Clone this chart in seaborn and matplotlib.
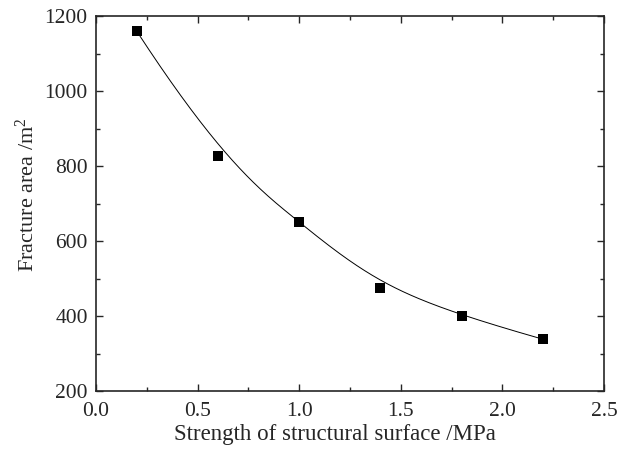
import numpy as np
import pandas as pd
import matplotlib
matplotlib.use("Agg")
import matplotlib.pyplot as plt
import seaborn as sns
from matplotlib.ticker import MultipleLocator

strength = [0.2, 0.6, 1.0, 1.4, 1.8, 2.2]
area = [1160, 827, 650, 476, 400, 338]

sns.set_style("ticks")
plt.rcParams['font.family'] = ['Liberation Serif', 'DejaVu Serif']
plt.rcParams['mathtext.fontset'] = 'custom'
plt.rcParams['mathtext.rm'] = 'Liberation Serif'
plt.rcParams['mathtext.it'] = 'Liberation Serif:italic'

df = pd.DataFrame({"x": strength, "y": area})

# clamped cubic B-spline using the data points as control points (Origin-style "B-Spline" connect)
def bspline(ctrl, n=300, k=3):
    ctrl = np.asarray(ctrl, dtype=float)
    m = len(ctrl)
    inner = np.arange(1, m - k)
    knots = np.concatenate([np.zeros(k + 1), inner, np.full(k + 1, m - k)]).astype(float)
    us = np.linspace(0, m - k, n)
    out = []
    for u in us:
        N = np.zeros(len(knots) - 1)
        for i in range(len(knots) - 1):
            if knots[i] <= u < knots[i + 1] or (u == knots[-1] and knots[i] < u <= knots[i + 1]):
                N[i] = 1.0
        for d in range(1, k + 1):
            Nn = np.zeros(len(knots) - 1 - d)
            for i in range(len(Nn)):
                a = 0.0
                if knots[i + d] != knots[i]:
                    a = (u - knots[i]) / (knots[i + d] - knots[i]) * N[i]
                b = 0.0
                if knots[i + d + 1] != knots[i + 1]:
                    b = (knots[i + d + 1] - u) / (knots[i + d + 1] - knots[i + 1]) * N[i + 1]
                Nn[i] = a + b
            N = Nn
        out.append(N @ ctrl)
    return np.array(out)

curve = bspline(np.column_stack([strength, area]))
fit = pd.DataFrame({"x": curve[:, 0], "y": curve[:, 1]})

fig = plt.figure(figsize=(6.21, 4.5), dpi=100)
ax = fig.add_axes([0.1546, 0.1311, 0.818, 0.8333])

sns.lineplot(data=fit, x="x", y="y", ax=ax, color="black", linewidth=0.7, sort=False)
sns.scatterplot(data=df, x="x", y="y", ax=ax, marker="s", s=55, color="black",
                edgecolor="black", linewidth=0, zorder=3)

ax.set_xlim(0, 2.5)
ax.set_ylim(200, 1200)
ax.xaxis.set_major_locator(MultipleLocator(0.5))
ax.xaxis.set_minor_locator(MultipleLocator(0.25))
ax.yaxis.set_major_locator(MultipleLocator(200))
ax.yaxis.set_minor_locator(MultipleLocator(100))
ax.tick_params(which="both", direction="in", top=True, right=True, labelsize=15.5, width=1.0)
ax.tick_params(which="major", length=5)
ax.tick_params(which="minor", length=3)
ax.tick_params(axis="x", pad=8)
ax.tick_params(axis="y", pad=6)
ax.set_xticklabels([f"{v:.1f}" for v in ax.get_xticks()])
ax.set_yticklabels([f"{int(v)}" for v in ax.get_yticks()])
for sp in ax.spines.values():
    sp.set_linewidth(1.2)
    sp.set_visible(True)
ax.set_xlabel("Strength of structural surface /MPa", fontsize=16.5, labelpad=2)
ax.set_ylabel("Fracture area /m$^2$", fontsize=16, labelpad=4)
ax.xaxis.label.set_x(0.4695)
ax.yaxis.label.set_y(0.525)

fig.savefig("out.png", dpi=100)
